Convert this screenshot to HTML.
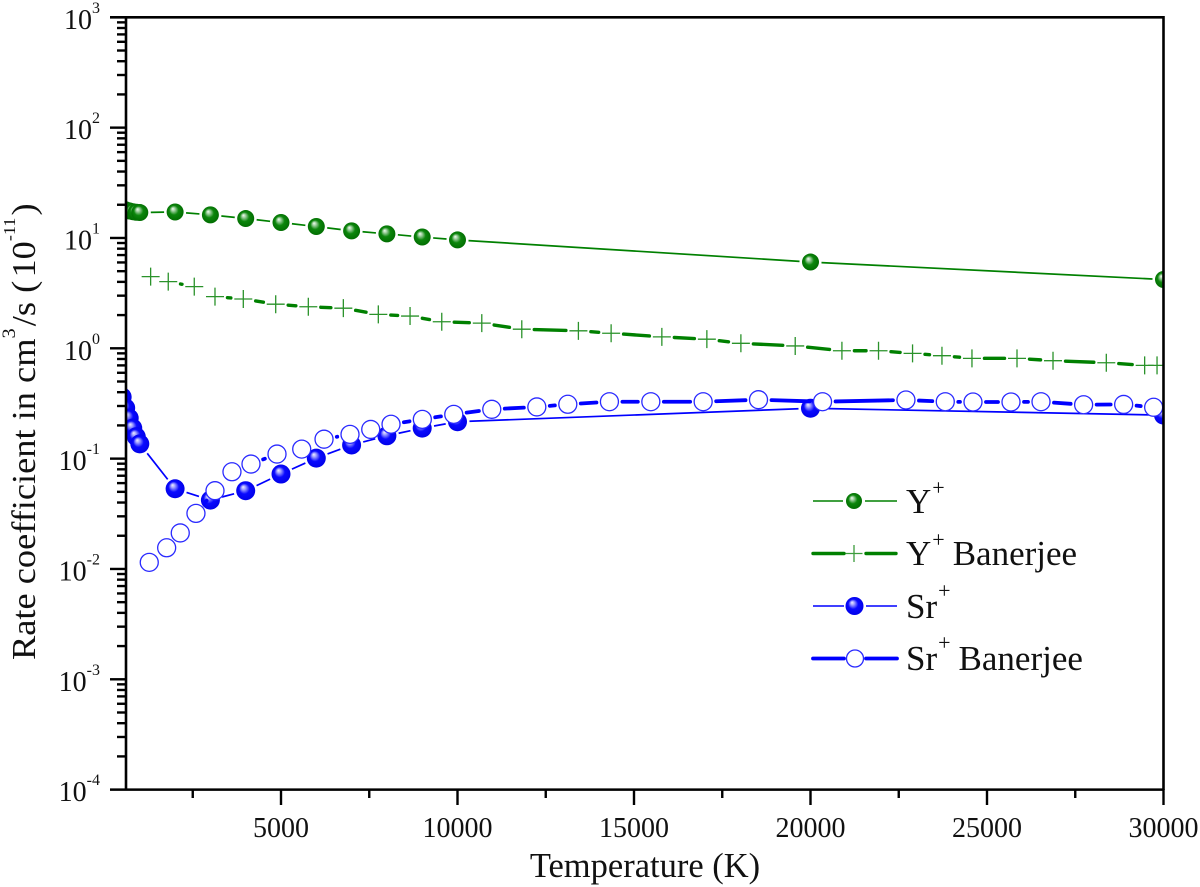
<!DOCTYPE html>
<html lang="en">
<head>
<meta charset="utf-8">
<title>Rate coefficient vs temperature</title>
<style>
html,body{margin:0;padding:0;background:#fff;}
svg{display:block;font-family:"Liberation Serif",serif;fill:#111;}
</style>
</head>
<body>
<svg id="chart" xmlns="http://www.w3.org/2000/svg" width="1200" height="887" viewBox="0 0 1200 887">
  <defs>
    <radialGradient id="ballGreen" cx="0.5" cy="0.5" r="0.55" fx="0.36" fy="0.3">
      <stop offset="0" stop-color="#f2fff2"/><stop offset="0.18" stop-color="#a8d4a8"/><stop offset="0.5" stop-color="#0c860c"/><stop offset="1" stop-color="#006a00"/>
    </radialGradient>
    <radialGradient id="ballBlue" cx="0.5" cy="0.5" r="0.55" fx="0.36" fy="0.3">
      <stop offset="0" stop-color="#f0f0ff"/><stop offset="0.18" stop-color="#a8a8ff"/><stop offset="0.5" stop-color="#0a0aff"/><stop offset="1" stop-color="#0000e6"/>
    </radialGradient>
    <clipPath id="plotClip"><rect x="126" y="17" width="1037.5" height="772"/></clipPath>
  </defs>
  <g id="marks" clip-path="url(#plotClip)"></g>
  <g id="axes"></g>

  <text x="645" y="877" font-size="34.5" text-anchor="middle">Temperature (K)</text>
  <text transform="translate(35,660) rotate(-90) scale(1.07,1)" font-size="34">Rate coefficient in cm<tspan font-size="19" dy="-20">3</tspan><tspan dx="2" dy="20">/s (</tspan><tspan dx="3">10</tspan><tspan font-size="17" dy="-20">-11</tspan><tspan dx="2" dy="20">)</tspan></text>

  <g font-size="35">
    <g>
      <line x1="813" y1="501" x2="843" y2="501" stroke="#008000" stroke-width="1.6"/><line x1="865" y1="501" x2="897" y2="501" stroke="#008000" stroke-width="1.6"/>
      <circle cx="854" cy="501" r="8" fill="url(#ballGreen)"/>
      <text x="906" y="513">Y<tspan font-size="22" dx="1" dy="-18">+</tspan></text>
    </g>
    <g>
      <line x1="813" y1="553.5" x2="844" y2="553.5" stroke="#008000" stroke-width="3.4" stroke-linecap="round"/><line x1="866" y1="553.5" x2="896" y2="553.5" stroke="#008000" stroke-width="3.4" stroke-linecap="round"/>
      <path d="M845.500 553.500H862.500M854 545V562" stroke="#3c9c3c" stroke-width="1.3" fill="none"/>
      <text x="906" y="565">Y<tspan font-size="22" dx="1" dy="-18">+</tspan><tspan dx="8" dy="18">Banerjee</tspan></text>
    </g>
    <g>
      <line x1="813" y1="606" x2="844" y2="606" stroke="#0000ff" stroke-width="1.6"/><line x1="866" y1="606" x2="897" y2="606" stroke="#0000ff" stroke-width="1.6"/>
      <circle cx="854.500" cy="606" r="9" fill="url(#ballBlue)"/>
      <text x="906" y="618">Sr<tspan font-size="22" dx="1" dy="-20">+</tspan></text>
    </g>
    <g>
      <line x1="813" y1="658.500" x2="844" y2="658.500" stroke="#0000ff" stroke-width="3.800" stroke-linecap="round"/><line x1="866" y1="658.500" x2="897" y2="658.500" stroke="#0000ff" stroke-width="3.800" stroke-linecap="round"/>
      <circle cx="855" cy="658.500" r="8.500" fill="#fff" stroke="#2a2aff" stroke-width="1.300"/>
      <text x="906" y="670">Sr<tspan font-size="22" dx="1" dy="-20">+</tspan><tspan dx="8" dy="20">Banerjee</tspan></text>
    </g>
  </g>
</svg>
<script>
const xTickValues = [5000, 10000, 15000, 20000, 25000, 30000];
const xMinorTickValues = [2500, 7500, 12500, 17500, 22500, 27500];
const yDecadeExponents = [3, 2, 1, 0, -1, -2, -3, -4];

const yIonT = [400, 500, 600, 700, 800, 900, 1000, 2000, 3000, 4000, 5000, 6000, 7000, 8000, 9000, 10000, 20000, 30000];
const yIonRate = [19.9, 18.3, 18, 17.6, 17.3, 17.1, 17, 17.2, 16.2, 15, 13.8, 12.7, 11.6, 10.9, 10.2, 9.6, 6.05, 4.2];

const yBanerjeeT = [1307, 1806, 2543, 3130, 3932, 4850, 5774, 6766, 7757, 8656, 9554, 10688, 11821, 13425, 14352, 15789, 17064, 18028, 19567, 20890, 21927, 22891, 23724, 24574, 25850, 26870, 28380, 29466, 29817];
const yBanerjeeRate = [4.46, 4.02, 3.62, 2.94, 2.8, 2.51, 2.38, 2.31, 2.03, 1.96, 1.74, 1.69, 1.49, 1.44, 1.37, 1.27, 1.21, 1.11, 1.05, 0.95, 0.95, 0.9, 0.857, 0.811, 0.811, 0.772, 0.74, 0.7, 0.7];

const srIonT = [500, 600, 700, 800, 900, 1000, 2000, 3000, 4000, 5000, 6000, 7000, 8000, 9000, 10000, 20000, 30000];
const srIonRate = [0.362, 0.288, 0.233, 0.189, 0.158, 0.136, 0.0533, 0.0421, 0.0512, 0.0725, 0.101, 0.133, 0.161, 0.189, 0.216, 0.286, 0.248];

const srBanerjeeT = [1268, 1761, 2146, 2591, 3130, 3611, 4150, 4887, 5587, 6219, 6955, 7542, 8117, 9004, 9894, 10971, 12247, 13125, 14304, 15477, 16959, 18527, 20341, 22704, 23818, 24603, 25680, 26530, 27737, 28871, 29721];
const srBanerjeeRate = [0.01148, 0.01556, 0.0212, 0.0319, 0.0512, 0.076, 0.0893, 0.11, 0.122, 0.15, 0.166, 0.184, 0.205, 0.227, 0.252, 0.28, 0.294, 0.311, 0.328, 0.328, 0.328, 0.342, 0.328, 0.34, 0.328, 0.326, 0.326, 0.328, 0.308, 0.31, 0.292];

const NS = 'http://www.w3.org/2000/svg';
const marks = document.getElementById('marks');
const axes = document.getElementById('axes');

function xScale(t) { return 281 + (t - 5000) * (1163.5 - 281) / 25000; }
function yScale(v) { return 348.3 - Math.log10(v) * 110.33; }

function make(tag, parent, attrs) {
  const node = document.createElementNS(NS, tag);
  for (const key in attrs) node.setAttribute(key, attrs[key]);
  parent.appendChild(node);
  return node;
}

function drawLine(parent, ts, vs, gap, color, width, cap) {
  for (let i = 0; i < ts.length - 1; i++) {
    const x1 = xScale(ts[i]), y1 = yScale(vs[i]), x2 = xScale(ts[i + 1]), y2 = yScale(vs[i + 1]);
    const d = Math.hypot(x2 - x1, y2 - y1);
    if (d <= 2 * gap) continue;
    const ux = (x2 - x1) / d, uy = (y2 - y1) / d;
    const seg = make('line', parent, { x1: x1 + ux * gap, y1: y1 + uy * gap, x2: x2 - ux * gap, y2: y2 - uy * gap, stroke: color, 'stroke-width': width, 'stroke-linecap': cap });
    
    
  }
}

function drawBalls(parent, ts, vs, r, fill) {
  ts.forEach((t, i) => {
    const c = make('circle', parent, { cx: xScale(t), cy: yScale(vs[i]), r: r, fill: fill });
    
    
  });
}

function drawOpen(parent, ts, vs, r, color) {
  ts.forEach((t, i) => {
    const c = make('circle', parent, { cx: xScale(t), cy: yScale(vs[i]), r: r, fill: '#fff', stroke: color, 'stroke-width': 1.3 });
    
    
  });
}

function drawPlus(parent, ts, vs, h, color) {
  ts.forEach((t, i) => {
    const x = xScale(t), y = yScale(vs[i]);
    const p = make('path', parent, { d: `M${x - h} ${y}H${x + h}M${x} ${y - h}V${y + h}`, stroke: color, 'stroke-width': 1.3, fill: 'none' });
    
    
  });
}

function series(name) {
  const g = make('g', marks, {});
  
  
  return g;
}

const gY = series('series-y-ion');
drawLine(gY, yIonT, yIonRate, 11, '#008000', 1.7, 'butt');
drawBalls(gY, yIonT, yIonRate, 8.5, 'url(#ballGreen)');

const gYB = series('series-y-banerjee');
drawLine(gYB, yBanerjeeT, yBanerjeeRate, 12.5, '#008000', 3.4, 'round');
drawPlus(gYB, yBanerjeeT, yBanerjeeRate, 9, '#2a922a');

const gS = series('series-sr-ion');
drawLine(gS, srIonT, srIonRate, 12, '#0000ff', 1.7, 'butt');
drawBalls(gS, srIonT, srIonRate, 9.5, 'url(#ballBlue)');

const gSB = series('series-sr-banerjee');
drawLine(gSB, srBanerjeeT, srBanerjeeRate, 13, '#0000ff', 3.8, 'round');
drawOpen(gSB, srBanerjeeT, srBanerjeeRate, 9, '#2a2aff');

/* axes */
const AX = 126, AR = 1163.5, AT = 17, AB = 789;
function axisLine(x1, y1, x2, y2, name, w) {
  const l = make('line', axes, { x1: x1, y1: y1, x2: x2, y2: y2, stroke: '#000', 'stroke-width': w });
  
  
}
axisLine(AX, AT - 1, AX, AB + 1, 'y-axis-line', 2.6);
axisLine(AR, AT - 1, AR, AB + 1, 'right-axis-line', 2.6);
axisLine(AX - 16, yScale(1000), AR + 1, yScale(1000), 'top-axis-line', 2.6);
axisLine(AX - 16, yScale(0.0001), AR + 1, yScale(0.0001), 'x-axis-line', 2.6);

xTickValues.forEach(t => {
  axisLine(xScale(t), AB, xScale(t), AB + 16, 'x-major-tick', 2.4);
  const lab = make('text', axes, { x: xScale(t), y: 837, 'font-size': 28, 'text-anchor': 'middle' });
  
  
  lab.textContent = String(t);
});
xMinorTickValues.forEach(t => {
  axisLine(xScale(t), AB, xScale(t), AB + 9, 'x-minor-tick', 2.4);
});

yDecadeExponents.forEach(e => {
  const base = Math.pow(10, e);
  const y = yScale(base);
  if (e !== 3 && e !== -4) axisLine(AX - 16, y, AX, y, 'y-major-tick', 2.4);
  if (e !== -4) {
    [2, 3, 4, 5, 6, 7, 8, 9].forEach(m => {
      const my = yScale(base / 10 * m);
      axisLine(AX - 9, my, AX, my, 'y-minor-tick', 2.4);
    });
  }
  const lab = make('text', axes, { x: 100, y: y + 11.5, 'font-size': 28, 'text-anchor': 'end' });
  
  
  const ten = make('tspan', lab, {});
  ten.textContent = '10';
  const sup = make('tspan', lab, { 'font-size': 16, dy: -16 });
  sup.textContent = String(e);
});
</script>
</body>
</html>
